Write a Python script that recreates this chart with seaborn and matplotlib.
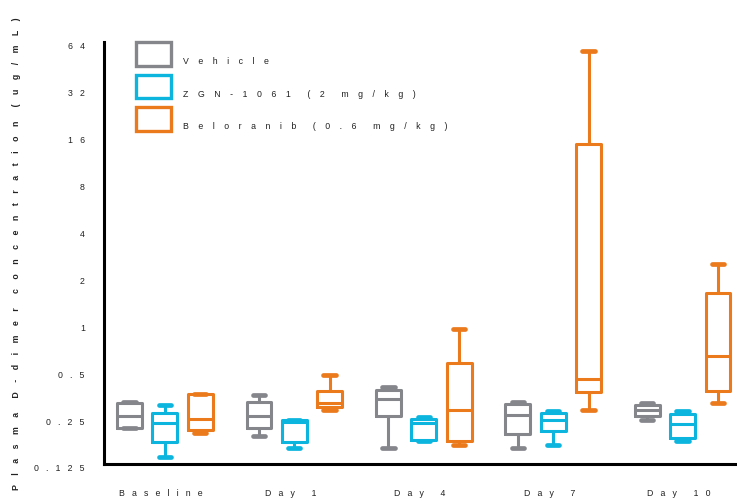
import matplotlib
matplotlib.use("Agg")
import matplotlib.pyplot as plt
import matplotlib.transforms as mtransforms
from matplotlib.patches import Patch, Rectangle
from matplotlib.legend_handler import HandlerPatch
from matplotlib.ticker import NullLocator
import pandas as pd
import seaborn as sns

days = ["Baseline", "Day 1", "Day 4", "Day 7", "Day 10"]
groups = ["Vehicle", "ZGN-1061 (2 mg/kg)", "Beloranib (0.6 mg/kg)"]
colors = ["#85868C", "#0BB5DD", "#EB7A1D"]

# Five-number summaries per day: min, Q1, median, Q3, max (ug/mL)
vehicle = [
    [0.212, 0.212, 0.255, 0.307, 0.312],
    [0.188, 0.213, 0.255, 0.314, 0.347],
    [0.158, 0.255, 0.327, 0.375, 0.388],
    [0.158, 0.195, 0.258, 0.303, 0.311],
    [0.240, 0.256, 0.276, 0.297, 0.308],
]
zgn_1061 = [
    [0.138, 0.172, 0.229, 0.266, 0.298],
    [0.158, 0.172, 0.2315, 0.2395, 0.2395],
    [0.175, 0.179, 0.229, 0.243, 0.249],
    [0.166, 0.203, 0.238, 0.266, 0.272],
    [0.175, 0.183, 0.226, 0.262, 0.272],
]
beloranib = [
    [0.197, 0.2075, 0.243, 0.352, 0.352],
    [0.276, 0.290, 0.308, 0.368, 0.466],
    [0.166, 0.176, 0.279, 0.554, 0.919],
    [0.278, 0.361, 0.437, 14.15, 55.7],
    [0.307, 0.369, 0.614, 1.565, 2.40],
]

y_ticks = [0.125, 0.25, 0.5, 1, 2, 4, 8, 16, 32, 64]
y_tick_labels = ["0.125", "0.25", "0.5", "1", "2", "4", "8", "16", "32", "64"]
y_title = "Plasma D-dimer concentration (ug/mL)"


def spread(text, gap="   ", word_gap="       "):
    """Letter-spaced version of a label."""
    return word_gap.join(gap.join(word) for word in text.split(" "))


rows = []
for group, summaries in zip(groups, [vehicle, zgn_1061, beloranib]):
    for day, values in zip(days, summaries):
        for v in values:
            rows.append((day, group, v))
df = pd.DataFrame(rows, columns=["day", "group", "value"])

sns.set_theme(style="white")
plt.rcParams["font.family"] = ["Liberation Sans", "DejaVu Sans"]
text_color = "#222222"
fs = 6.3

fig = plt.figure(figsize=(7.37, 5.02), dpi=100)
ax = fig.add_axes([104 / 737, 37 / 502, 633 / 737, 422 / 502])

sns.boxplot(
    data=df, x="day", y="value", hue="group",
    order=days, hue_order=groups, palette=colors,
    fill=False, width=0.82, gap=0.3, whis=(0, 100),
    linewidth=2.2, log_scale=2, legend=False, ax=ax,
    capprops=dict(linewidth=3.4),
)

ax.set_ylim(0.125, 64)
ax.set_xlim(-0.47, 4.42)
ax.set_yticks(y_ticks, [spread(t) for t in y_tick_labels])
ax.yaxis.set_minor_locator(NullLocator())
ax.set_xticks(range(len(days)), [spread(d) + "   " for d in days])

for side in ["top", "right"]:
    ax.spines[side].set_visible(False)
for side in ["left", "bottom"]:
    ax.spines[side].set_linewidth(2.2)
    ax.spines[side].set_color("black")

ax.tick_params(axis="y", direction="out", length=5.8, width=1.6, color="black",
               pad=8, labelsize=fs, labelcolor=text_color)
ax.tick_params(axis="x", length=0, pad=17, labelsize=fs, labelcolor=text_color)

shift = mtransforms.ScaledTranslation(0, -3 / 100, fig.dpi_scale_trans)
for lbl in ax.get_yticklabels():
    lbl.set_transform(lbl.get_transform() + shift)

ax.set_xlabel("")
ax.set_ylabel(spread(y_title, gap="    ", word_gap="      "),
              fontsize=fs, color=text_color, fontweight="bold")
ax.yaxis.set_label_coords(-0.131, 0.5)


# Legend swatches sit a little above their label's centre line
def raised_box(legend, orig_handle, xdescent, ydescent, width, height, fontsize):
    return Rectangle((-xdescent, -ydescent + 5), width, height)


handles = [Patch(facecolor="white", edgecolor=c, linewidth=2.4) for c in colors]
ax.legend(
    handles, [spread(g, gap="    ", word_gap="       ") for g in groups],
    loc="upper left", bbox_to_anchor=(32 / 633, 1.0 - 7 / 422),
    frameon=False, borderpad=0, borderaxespad=0,
    handlelength=4.0, handleheight=3.8, labelspacing=1.0,
    handletextpad=1.4, fontsize=fs, labelcolor=text_color,
    handler_map={Patch: HandlerPatch(patch_func=raised_box)},
)

fig.savefig("out.png", dpi=100)
